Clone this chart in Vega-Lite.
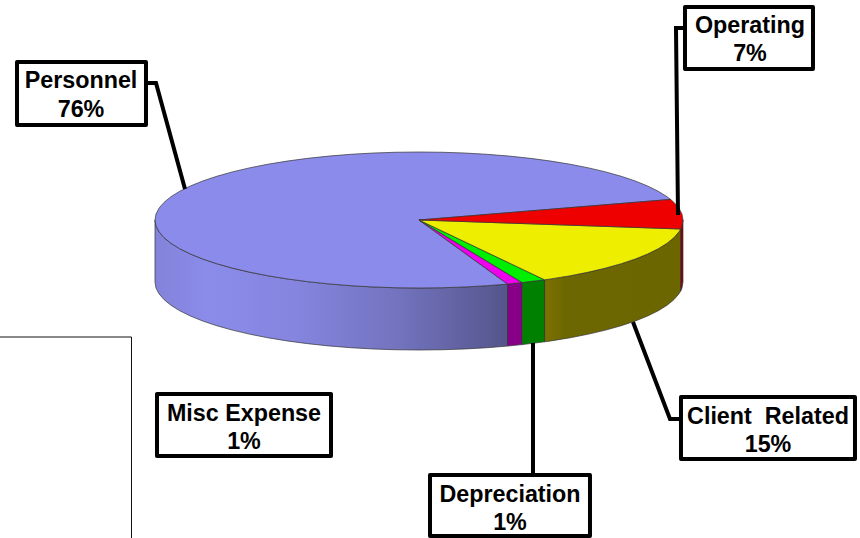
{
"$schema":"https://vega.github.io/schema/vega-lite/v6.json",
"width":860,"height":538,"padding":0,"autosize":{"type":"none"},"background":"white",
"config":{"view":{"stroke":null}},
"datasets":{
"faces":[
{"face":"Personnel side","n":0,"u":-1,"v":0},{"face":"Personnel side","n":1,"u":-0.9962,"v":-0.0872},{"face":"Personnel side","n":2,"u":-0.9848,"v":-0.1736},{"face":"Personnel side","n":3,"u":-0.9659,"v":-0.2588},{"face":"Personnel side","n":4,"u":-0.9397,"v":-0.342},{"face":"Personnel side","n":5,"u":-0.9063,"v":-0.4226},{"face":"Personnel side","n":6,"u":-0.866,"v":-0.5},{"face":"Personnel side","n":7,"u":-0.8192,"v":-0.5736},{"face":"Personnel side","n":8,"u":-0.766,"v":-0.6428},{"face":"Personnel side","n":9,"u":-0.7071,"v":-0.7071},{"face":"Personnel side","n":10,"u":-0.6428,"v":-0.766},{"face":"Personnel side","n":11,"u":-0.5736,"v":-0.8192},{"face":"Personnel side","n":12,"u":-0.5,"v":-0.866},{"face":"Personnel side","n":13,"u":-0.4226,"v":-0.9063},{"face":"Personnel side","n":14,"u":-0.342,"v":-0.9397},{"face":"Personnel side","n":15,"u":-0.2588,"v":-0.9659},{"face":"Personnel side","n":16,"u":-0.1736,"v":-0.9848},{"face":"Personnel side","n":17,"u":-0.0872,"v":-0.9962},{"face":"Personnel side","n":18,"u":0,"v":-1},{"face":"Personnel side","n":19,"u":0.0872,"v":-0.9962},{"face":"Personnel side","n":20,"u":0.1736,"v":-0.9848},{"face":"Personnel side","n":21,"u":0.2588,"v":-0.9659},{"face":"Personnel side","n":22,"u":0.3355,"v":-0.9421},
{"face":"Personnel side","n":23,"u":0.3355,"v":-1.8541},{"face":"Personnel side","n":24,"u":0.2588,"v":-1.8779},{"face":"Personnel side","n":25,"u":0.1736,"v":-1.8968},{"face":"Personnel side","n":26,"u":0.0872,"v":-1.9082},{"face":"Personnel side","n":27,"u":0,"v":-1.912},{"face":"Personnel side","n":28,"u":-0.0872,"v":-1.9082},{"face":"Personnel side","n":29,"u":-0.1736,"v":-1.8968},{"face":"Personnel side","n":30,"u":-0.2588,"v":-1.8779},{"face":"Personnel side","n":31,"u":-0.342,"v":-1.8517},{"face":"Personnel side","n":32,"u":-0.4226,"v":-1.8183},{"face":"Personnel side","n":33,"u":-0.5,"v":-1.778},{"face":"Personnel side","n":34,"u":-0.5736,"v":-1.7312},{"face":"Personnel side","n":35,"u":-0.6428,"v":-1.678},{"face":"Personnel side","n":36,"u":-0.7071,"v":-1.6191},{"face":"Personnel side","n":37,"u":-0.766,"v":-1.5548},{"face":"Personnel side","n":38,"u":-0.8192,"v":-1.4856},{"face":"Personnel side","n":39,"u":-0.866,"v":-1.412},{"face":"Personnel side","n":40,"u":-0.9063,"v":-1.3346},{"face":"Personnel side","n":41,"u":-0.9397,"v":-1.254},{"face":"Personnel side","n":42,"u":-0.9659,"v":-1.1708},{"face":"Personnel side","n":43,"u":-0.9848,"v":-1.0856},{"face":"Personnel side","n":44,"u":-0.9962,"v":-0.9992},{"face":"Personnel side","n":45,"u":-1,"v":-0.912},{"face":"Personnel side","n":46,"u":-1,"v":0},

{"face":"Misc Expense side","n":0,"u":0.3355,"v":-0.9421},{"face":"Misc Expense side","n":1,"u":0.3907,"v":-0.9205},{"face":"Misc Expense side","n":2,"u":0.3907,"v":-1.8325},{"face":"Misc Expense side","n":3,"u":0.3355,"v":-1.8541},{"face":"Misc Expense side","n":4,"u":0.3355,"v":-0.9421},

{"face":"Depreciation side","n":0,"u":0.3907,"v":-0.9205},{"face":"Depreciation side","n":1,"u":0.4756,"v":-0.8796},{"face":"Depreciation side","n":2,"u":0.4756,"v":-1.7916},{"face":"Depreciation side","n":3,"u":0.3907,"v":-1.8325},{"face":"Depreciation side","n":4,"u":0.3907,"v":-0.9205},

{"face":"Client Related side","n":0,"u":0.4756,"v":-0.8796},{"face":"Client Related side","n":1,"u":0.5,"v":-0.866},{"face":"Client Related side","n":2,"u":0.5736,"v":-0.8192},{"face":"Client Related side","n":3,"u":0.6428,"v":-0.766},{"face":"Client Related side","n":4,"u":0.7071,"v":-0.7071},{"face":"Client Related side","n":5,"u":0.766,"v":-0.6428},{"face":"Client Related side","n":6,"u":0.8192,"v":-0.5736},{"face":"Client Related side","n":7,"u":0.866,"v":-0.5},{"face":"Client Related side","n":8,"u":0.9063,"v":-0.4226},{"face":"Client Related side","n":9,"u":0.9397,"v":-0.342},{"face":"Client Related side","n":10,"u":0.9659,"v":-0.2588},{"face":"Client Related side","n":11,"u":0.9848,"v":-0.1736},{"face":"Client Related side","n":12,"u":0.9912,"v":-0.1323},
{"face":"Client Related side","n":13,"u":0.9912,"v":-1.0443},{"face":"Client Related side","n":14,"u":0.9848,"v":-1.0856},{"face":"Client Related side","n":15,"u":0.9659,"v":-1.1708},{"face":"Client Related side","n":16,"u":0.9397,"v":-1.254},{"face":"Client Related side","n":17,"u":0.9063,"v":-1.3346},{"face":"Client Related side","n":18,"u":0.866,"v":-1.412},{"face":"Client Related side","n":19,"u":0.8192,"v":-1.4856},{"face":"Client Related side","n":20,"u":0.766,"v":-1.5548},{"face":"Client Related side","n":21,"u":0.7071,"v":-1.6191},{"face":"Client Related side","n":22,"u":0.6428,"v":-1.678},{"face":"Client Related side","n":23,"u":0.5736,"v":-1.7312},{"face":"Client Related side","n":24,"u":0.5,"v":-1.778},{"face":"Client Related side","n":25,"u":0.4756,"v":-1.7916},{"face":"Client Related side","n":26,"u":0.4756,"v":-0.8796},

{"face":"Operating side","n":0,"u":0.9912,"v":-0.1323},{"face":"Operating side","n":1,"u":0.9962,"v":-0.0872},{"face":"Operating side","n":2,"u":1,"v":0},{"face":"Operating side","n":3,"u":1,"v":-0.912},{"face":"Operating side","n":4,"u":0.9962,"v":-0.9992},{"face":"Operating side","n":5,"u":0.9912,"v":-1.0443},{"face":"Operating side","n":6,"u":0.9912,"v":-0.1323},

{"face":"Personnel top","n":0,"u":0,"v":0},{"face":"Personnel top","n":1,"u":0.9532,"v":0.3024},{"face":"Personnel top","n":2,"u":0.9397,"v":0.342},{"face":"Personnel top","n":3,"u":0.9063,"v":0.4226},{"face":"Personnel top","n":4,"u":0.866,"v":0.5},{"face":"Personnel top","n":5,"u":0.8192,"v":0.5736},{"face":"Personnel top","n":6,"u":0.766,"v":0.6428},{"face":"Personnel top","n":7,"u":0.7071,"v":0.7071},{"face":"Personnel top","n":8,"u":0.6428,"v":0.766},{"face":"Personnel top","n":9,"u":0.5736,"v":0.8192},{"face":"Personnel top","n":10,"u":0.5,"v":0.866},{"face":"Personnel top","n":11,"u":0.4226,"v":0.9063},{"face":"Personnel top","n":12,"u":0.342,"v":0.9397},{"face":"Personnel top","n":13,"u":0.2588,"v":0.9659},{"face":"Personnel top","n":14,"u":0.1736,"v":0.9848},{"face":"Personnel top","n":15,"u":0.0872,"v":0.9962},{"face":"Personnel top","n":16,"u":0,"v":1},{"face":"Personnel top","n":17,"u":-0.0872,"v":0.9962},{"face":"Personnel top","n":18,"u":-0.1736,"v":0.9848},{"face":"Personnel top","n":19,"u":-0.2588,"v":0.9659},{"face":"Personnel top","n":20,"u":-0.342,"v":0.9397},{"face":"Personnel top","n":21,"u":-0.4226,"v":0.9063},{"face":"Personnel top","n":22,"u":-0.5,"v":0.866},{"face":"Personnel top","n":23,"u":-0.5736,"v":0.8192},{"face":"Personnel top","n":24,"u":-0.6428,"v":0.766},{"face":"Personnel top","n":25,"u":-0.7071,"v":0.7071},{"face":"Personnel top","n":26,"u":-0.766,"v":0.6428},{"face":"Personnel top","n":27,"u":-0.8192,"v":0.5736},{"face":"Personnel top","n":28,"u":-0.866,"v":0.5},{"face":"Personnel top","n":29,"u":-0.9063,"v":0.4226},{"face":"Personnel top","n":30,"u":-0.9397,"v":0.342},{"face":"Personnel top","n":31,"u":-0.9659,"v":0.2588},{"face":"Personnel top","n":32,"u":-0.9848,"v":0.1736},{"face":"Personnel top","n":33,"u":-0.9962,"v":0.0872},{"face":"Personnel top","n":34,"u":-1,"v":0},{"face":"Personnel top","n":35,"u":-0.9962,"v":-0.0872},{"face":"Personnel top","n":36,"u":-0.9848,"v":-0.1736},{"face":"Personnel top","n":37,"u":-0.9659,"v":-0.2588},{"face":"Personnel top","n":38,"u":-0.9397,"v":-0.342},{"face":"Personnel top","n":39,"u":-0.9063,"v":-0.4226},{"face":"Personnel top","n":40,"u":-0.866,"v":-0.5},{"face":"Personnel top","n":41,"u":-0.8192,"v":-0.5736},{"face":"Personnel top","n":42,"u":-0.766,"v":-0.6428},{"face":"Personnel top","n":43,"u":-0.7071,"v":-0.7071},{"face":"Personnel top","n":44,"u":-0.6428,"v":-0.766},{"face":"Personnel top","n":45,"u":-0.5736,"v":-0.8192},{"face":"Personnel top","n":46,"u":-0.5,"v":-0.866},{"face":"Personnel top","n":47,"u":-0.4226,"v":-0.9063},{"face":"Personnel top","n":48,"u":-0.342,"v":-0.9397},{"face":"Personnel top","n":49,"u":-0.2588,"v":-0.9659},{"face":"Personnel top","n":50,"u":-0.1736,"v":-0.9848},{"face":"Personnel top","n":51,"u":-0.0872,"v":-0.9962},{"face":"Personnel top","n":52,"u":0,"v":-1},{"face":"Personnel top","n":53,"u":0.0872,"v":-0.9962},{"face":"Personnel top","n":54,"u":0.1736,"v":-0.9848},{"face":"Personnel top","n":55,"u":0.2588,"v":-0.9659},{"face":"Personnel top","n":56,"u":0.3355,"v":-0.9421},{"face":"Personnel top","n":57,"u":0,"v":0},

{"face":"Misc Expense top","n":0,"u":0,"v":0},{"face":"Misc Expense top","n":1,"u":0.3355,"v":-0.9421},{"face":"Misc Expense top","n":2,"u":0.3907,"v":-0.9205},{"face":"Misc Expense top","n":3,"u":0,"v":0},

{"face":"Depreciation top","n":0,"u":0,"v":0},{"face":"Depreciation top","n":1,"u":0.3907,"v":-0.9205},{"face":"Depreciation top","n":2,"u":0.4756,"v":-0.8796},{"face":"Depreciation top","n":3,"u":0,"v":0},

{"face":"Client Related top","n":0,"u":0,"v":0},{"face":"Client Related top","n":1,"u":0.4756,"v":-0.8796},{"face":"Client Related top","n":2,"u":0.5,"v":-0.866},{"face":"Client Related top","n":3,"u":0.5736,"v":-0.8192},{"face":"Client Related top","n":4,"u":0.6428,"v":-0.766},{"face":"Client Related top","n":5,"u":0.7071,"v":-0.7071},{"face":"Client Related top","n":6,"u":0.766,"v":-0.6428},{"face":"Client Related top","n":7,"u":0.8192,"v":-0.5736},{"face":"Client Related top","n":8,"u":0.866,"v":-0.5},{"face":"Client Related top","n":9,"u":0.9063,"v":-0.4226},{"face":"Client Related top","n":10,"u":0.9397,"v":-0.342},{"face":"Client Related top","n":11,"u":0.9659,"v":-0.2588},{"face":"Client Related top","n":12,"u":0.9848,"v":-0.1736},{"face":"Client Related top","n":13,"u":0.9912,"v":-0.1323},{"face":"Client Related top","n":14,"u":0,"v":0},

{"face":"Operating top","n":0,"u":0,"v":0},{"face":"Operating top","n":1,"u":0.9912,"v":-0.1323},{"face":"Operating top","n":2,"u":0.9962,"v":-0.0872},{"face":"Operating top","n":3,"u":1,"v":0},{"face":"Operating top","n":4,"u":0.9962,"v":0.0872},{"face":"Operating top","n":5,"u":0.9848,"v":0.1736},{"face":"Operating top","n":6,"u":0.9659,"v":0.2588},{"face":"Operating top","n":7,"u":0.9532,"v":0.3024},{"face":"Operating top","n":8,"u":0,"v":0}
],
"callouts":[
{"name":"Personnel","share":0.76,"left":-1.5227,"right":-1.0341,"top":2.3235,"bottom":1.3971,"cx":-1.2803,"nameY":1.9412,"shareY":1.5191},
{"name":"Operating","share":0.07,"left":1.0076,"right":1.4924,"top":3.1324,"bottom":2.2206,"cx":1.2538,"nameY":2.75,"shareY":2.3382},
{"name":"Client\u00a0\u00a0Related","share":0.15,"left":0.9924,"right":1.6515,"top":-2.6029,"bottom":-3.5147,"cx":1.322,"nameY":-3,"shareY":-3.4118},
{"name":"Depreciation","share":0.01,"left":0.0417,"right":0.6477,"top":-3.75,"bottom":-4.6471,"cx":0.3447,"nameY":-4.1471,"shareY":-4.5588},
{"name":"Misc Expense","share":0.01,"left":-0.9924,"right":-0.3333,"top":-2.5588,"bottom":-3.4706,"cx":-0.6629,"nameY":-2.9559,"shareY":-3.3676}
],
"leaders":[
{"name":"Personnel","n":0,"u":-1.0303,"v":2.0147},{"name":"Personnel","n":1,"u":-0.9962,"v":2.0147},{"name":"Personnel","n":2,"u":-0.8864,"v":0.4559},
{"name":"Operating","n":0,"u":1.0076,"v":2.8235},{"name":"Operating","n":1,"u":0.9735,"v":2.8235},{"name":"Operating","n":2,"u":0.9811,"v":0.0735},
{"name":"Client Related","n":0,"u":0.8106,"v":-1.5},{"name":"Client Related","n":1,"u":0.9508,"v":-2.9265},{"name":"Client Related","n":2,"u":0.9924,"v":-2.9265},
{"name":"Depreciation","n":0,"u":0.4318,"v":-1.8088},{"name":"Depreciation","n":1,"u":0.4318,"v":-3.75}
],
"frame":[
{"n":0,"u":-1.5871,"v":-1.7206},{"n":1,"u":-1.089,"v":-1.7206},{"n":2,"u":-1.089,"v":-4.6765}
]
},
"resolve":{"scale":{"fill":"independent"}},
"encoding":{
"x":{"field":"u","type":"quantitative","axis":null,"scale":{"domain":[-1.5871,1.6705],"nice":false,"zero":false}},
"y":{"field":"v","type":"quantitative","axis":null,"scale":{"domain":[-4.6765,3.2353],"nice":false,"zero":false}}
},
"layer":[
{"data":{"name":"frame"},"mark":{"type":"line","stroke":"#111111","strokeWidth":1},"encoding":{"order":{"field":"n","type":"quantitative"}}},
{"data":{"name":"faces"},"transform":[{"filter":"datum.face==='Personnel side'"}],
 "mark":{"type":"line","stroke":"#333333","strokeWidth":0.7,"fill":{"gradient":"linear","x1":0,"y1":0,"x2":1,"y2":0,"stops":[{"offset":0,"color":"#8383da"},{"offset":0.15,"color":"#8b8bea"},{"offset":0.4,"color":"#8585df"},{"offset":0.7,"color":"#7272bd"},{"offset":1,"color":"#55558c"}]}},
 "encoding":{"order":{"field":"n","type":"quantitative"}}},
{"data":{"name":"faces"},"transform":[{"filter":"datum.face==='Client Related side'"}],
 "mark":{"type":"line","stroke":"#333333","strokeWidth":0.7,"fill":{"gradient":"linear","x1":0,"y1":0,"x2":1,"y2":0,"stops":[{"offset":0,"color":"#7d7200"},{"offset":0.15,"color":"#6c6700"},{"offset":1,"color":"#6b6600"}]}},
 "encoding":{"order":{"field":"n","type":"quantitative"}}},
{"data":{"name":"faces"},"transform":[{"filter":"datum.face!=='Personnel side' && datum.face!=='Client Related side'"}],
 "mark":{"type":"line","stroke":"#333333","strokeWidth":0.7},
 "encoding":{
  "order":{"field":"n","type":"quantitative"},
  "fill":{"field":"face","type":"nominal","legend":null,"scale":{
   "domain":["Misc Expense side","Depreciation side","Operating side","Personnel top","Misc Expense top","Depreciation top","Client Related top","Operating top"],
   "range":["#880088","#008000","#8a0000","#8b8beb","#ee00ee","#00ee00","#eeee00","#ee0000"]}}}},
{"data":{"name":"leaders"},"mark":{"type":"line","stroke":"black","strokeWidth":4,"strokeJoin":"miter"},
 "encoding":{"detail":{"field":"name"},"order":{"field":"n","type":"quantitative"}}},
{"data":{"name":"callouts"},"mark":{"type":"rect","fill":"white","stroke":"black","strokeWidth":4,"strokeJoin":"round"},
 "encoding":{
  "x":{"field":"left","type":"quantitative"},"x2":{"field":"right"},
  "y":{"field":"top","type":"quantitative"},"y2":{"field":"bottom"}}},
{"data":{"name":"callouts"},"mark":{"type":"text","font":"Liberation Sans","fontWeight":"bold","fontSize":23.3,"align":"center","baseline":"alphabetic","color":"black"},
 "encoding":{
  "x":{"field":"cx","type":"quantitative"},"y":{"field":"nameY","type":"quantitative"},
  "text":{"field":"name","type":"nominal"}}},
{"data":{"name":"callouts"},"mark":{"type":"text","font":"Liberation Sans","fontWeight":"bold","fontSize":23.3,"align":"center","baseline":"alphabetic","color":"black"},
 "encoding":{
  "x":{"field":"cx","type":"quantitative"},"y":{"field":"shareY","type":"quantitative"},
  "text":{"field":"share","type":"quantitative","format":".0%"}}}
]
}
